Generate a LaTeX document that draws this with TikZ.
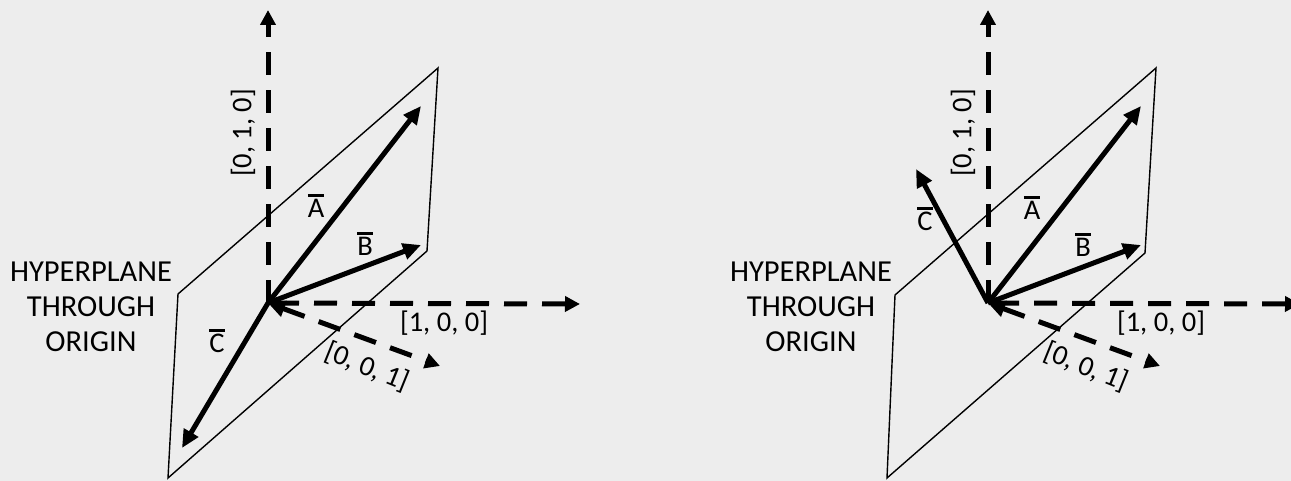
\documentclass[tikz,border=0pt]{standalone}
\usepackage{fontspec}
\setmainfont{Carlito}
\usetikzlibrary{arrows.meta}
\definecolor{bg}{HTML}{EDEDED}
\newcommand\obar[1]{\leavevmode\vbox{\hrule height 2.4pt\kern 2.6pt\hbox{#1}}}
\begin{document}
\begin{tikzpicture}[x=1pt,y=-1pt,
  axisline/.style={line width=5pt, dash pattern=on 23pt off 15pt, -{Triangle[length=15pt,width=15pt]}},
  axisboth/.style={line width=5pt, dash pattern=on 23pt off 15pt, {Triangle[length=17pt,width=16pt]}-{Triangle[length=15pt,width=15pt]}},
  vec/.style={line width=5pt, -{Triangle[length=18pt,width=16pt]}},
  planeedge/.style={line width=1.4pt, line join=miter},
  lbl/.style={font=\fontsize{28.5}{32}\selectfont, inner sep=0pt},
  title/.style={font=\fontsize{30.5}{35}\selectfont, align=center, inner sep=0pt}
]
\fill[bg] (0,0) rectangle (1291,481);
\useasboundingbox (0,0) rectangle (1291,481);

% ---------- left panel ----------
\coordinate (LO) at (268,303);
\coordinate (LY) at (268,10);
\coordinate (LX) at (580,304);
\coordinate (LZ) at (440,366);
\coordinate (LA) at (421,106);
\coordinate (LB) at (421,245);
\coordinate (LC) at (182,448);
\coordinate (LP1) at (178,294);
\coordinate (LP2) at (438,68);
\coordinate (LP3) at (427,251);
\coordinate (LP4) at (168,478);
\draw[planeedge] (LP1) -- (LP2) -- (LP3) -- (LP4) -- cycle;
\draw[axisline] (LO) -- (LY);
\draw[axisline, dash phase=-8pt] (LO) -- (LX);
\draw[axisboth] (LO) -- (LZ);
\draw[vec] (LO) -- (LA);
\draw[vec] (LO) -- (LB);
\draw[vec] (LO) -- (LC);
\node[title] (Lt) at (91,307) {HYPERPLANE\\THROUGH\\ORIGIN};
\node[lbl, rotate=90] (Ly) at (243,133) {[0, 1, 0]};
\node[lbl] (Lx) at (444,323) {[1, 0, 0]};
\node[lbl, rotate=-22] (Lz) at (367,367) {[0, 0, 1]};
\node[lbl] (La) at (316,206) {\obar{A}};
\node[lbl] (Lb) at (365,244) {\obar{B}};
\node[lbl] (Lc) at (217,341) {\obar{C}};

% ---------- right panel ----------
\coordinate (RO) at (988,303);
\coordinate (RY) at (988,10);
\coordinate (RX) at (1300,304);
\coordinate (RZ) at (1160,366);
\coordinate (RA) at (1141,106);
\coordinate (RB) at (1141,245);
\coordinate (RC) at (916,169);
\coordinate (RP1) at (895,295);
\coordinate (RP2) at (1156,68);
\coordinate (RP3) at (1145,253);
\coordinate (RP4) at (887,478);
\draw[planeedge] (RP1) -- (RP2) -- (RP3) -- (RP4) -- cycle;
\draw[axisline] (RO) -- (RY);
\draw[axisline, dash phase=-8pt] (RO) -- (RX);
\draw[axisboth] (RO) -- (RZ);
\draw[vec] (RO) -- (RA);
\draw[vec] (RO) -- (RB);
\draw[vec] (RO) -- (RC);
\node[title] (Rt) at (811,307) {HYPERPLANE\\THROUGH\\ORIGIN};
\node[lbl, rotate=90] (Ry) at (963,133) {[0, 1, 0]};
\node[lbl] (Rx) at (1161,323) {[1, 0, 0]};
\node[lbl, rotate=-22] (Rz) at (1086,367) {[0, 0, 1]};
\node[lbl] (Ra) at (1032,208) {\obar{A}};
\node[lbl] (Rb) at (1083,245) {\obar{B}};
\node[lbl] (Rc) at (925,219) {\obar{C}};
\end{tikzpicture}
\end{document}
